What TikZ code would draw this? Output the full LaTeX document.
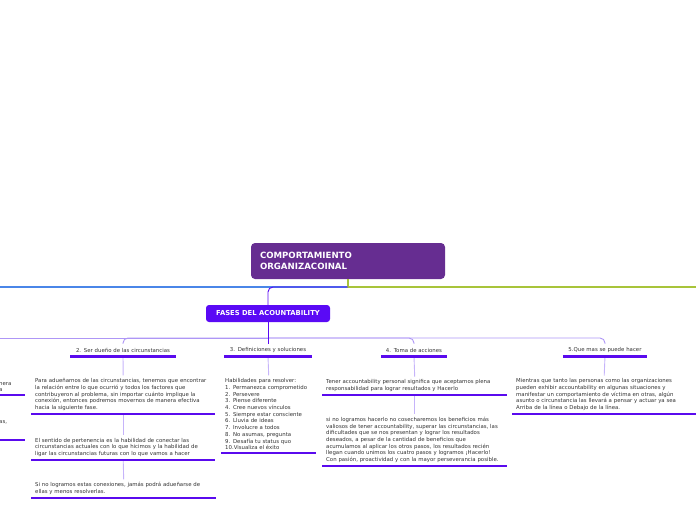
\documentclass[tikz,border=0pt]{standalone}
\usepackage{fontspec}
\setmainfont{DejaVu Sans}
\usetikzlibrary{positioning}
\definecolor{mmroot}{HTML}{662D91}
\definecolor{mmfases}{HTML}{5A0AF5}
\definecolor{mmbar}{HTML}{5A0AEE}
\definecolor{mmlink}{HTML}{AE96F6}
\definecolor{mmstub}{HTML}{C6B4FA}
\definecolor{mmblue}{HTML}{4A86E8}
\definecolor{mmgreen}{HTML}{A8C43A}
\definecolor{mmtext}{HTML}{333333}
\tikzset{
  rootbox/.style={rectangle,rounded corners=4pt,fill=mmroot,text=white,font=\fontsize{8.6}{11}\selectfont\bfseries,align=left,text width=176pt,inner xsep=9pt,minimum width=194pt,minimum height=36pt},
  fasesbox/.style={rectangle,rounded corners=3pt,fill=mmfases,text=white,font=\fontsize{6.8}{8}\selectfont\bfseries,minimum width=124pt,minimum height=17pt,inner sep=0pt},
  topic/.style={font=\fontsize{5.4}{6.6}\selectfont,text=mmtext,align=center,inner sep=0pt,minimum height=12pt},
  block/.style={font=\fontsize{5.4}{6.7}\selectfont,text=mmtext,align=left,inner xsep=4pt,inner ysep=3pt,anchor=south west},
  bar/.style={draw=mmbar,line width=2.6pt},
  link/.style={draw=mmlink,line width=.9pt,rounded corners=5pt},
  stub/.style={draw=mmstub,line width=.9pt},
  mainlink/.style={draw=mmfases,line width=.9pt,rounded corners=5pt},
}
\begin{document}
\begin{tikzpicture}[x=1pt,y=-1pt]
  \useasboundingbox (0,0) rectangle (696,520);
  \clip (0,0) rectangle (696,520);

  \node[rootbox] (root) at (348,261) {COMPORTAMIENTO\\ORGANIZACOINAL};
  \node[fasesbox] (fases) at (268,313.5) {FASES DEL ACOUNTABILITY};

  \coordinate (knot) at (348,287);
  \coordinate (westtop) at (0,287);
  \coordinate (easttop) at (696,287);
  \draw[mmblue,line width=1.1pt] (knot) -- (westtop);
  \draw[mmgreen,line width=1.1pt] (root.south) |- (easttop);
  \draw[mainlink] (knot) -| (fases.north);

  % subtopics
  \node[topic,text width=105pt] (t2) at (123,350) {2. Ser dueño de las circunstancias};
  \node[topic,text width=87pt] (t3) at (268,350) {3. Definiciones y soluciones};
  \node[topic,text width=65pt] (t4) at (414,350) {4. Toma de acciones};
  \node[topic,text width=84pt] (t5) at (605,350) {5.Que mas se puede hacer};

  \coordinate (hub) at (268,338);
  \coordinate (westend) at (0,338);
  \draw[link] (hub) -- (westend);
  \draw[link] (hub) -| (t2.north);
  \draw[link] (hub) -| (t4.north);
  \draw[link] (hub) -| (t5.north);
  \draw[mainlink] (fases) -- (t3);

  % texts
  \node[block,text width=176pt] (p21) at (31,414) {Para adueñarnos de las circunstancias, tenemos que encontrar\\la relación entre lo que ocurrió y todos los factores que\\contribuyeron al problema, sin importar cuánto implique la\\conexión, entonces podremos movernos de manera efectiva\\hacia la siguiente fase.};
  \node[block,text width=176pt] (p22) at (31,460) {El sentido de pertenencia es la habilidad de conectar las\\circunstancias actuales con lo que hicimos y la habilidad de\\ligar las circunstancias futuras con lo que vamos a hacer};
  \node[block,text width=177pt] (p23) at (31,498) {Si no logramos estas conexiones, jamás podrá adueñarse de\\ellas y menos resolverlas.};
  \node[block,text width=87pt] (p3) at (221,453) {Habilidades para resolver:\\1. Permanezca comprometido\\2. Persevere\\3. Piense diferente\\4. Cree nuevos vínculos\\5. Siempre estar consciente\\6. Lluvia de ideas\\7. Involucre a todos\\8. No asumas, pregunta\\9. Desafía tu status quo\\10.Visualiza el éxito};
  \node[block,text width=177pt] (p41) at (322,395) {Tener accountability personal significa que aceptamos plena\\responsabilidad para lograr resultados y Hacerlo};
  \node[block,text width=177pt] (p42) at (322,466) {si no logramos hacerlo no cosecharemos los beneficios más\\valiosos de tener accountability, superar las circunstancias, las\\dificultades que se nos presentan y lograr los resultados\\deseados, a pesar de la cantidad de beneficios que\\acumulamos al aplicar los otros pasos, los resultados recién\\llegan cuando unimos los cuatro pasos y logramos ¡Hacerlo!\\Con pasión, proactividad y con la mayor perseverancia posible.};
  \node[block,text width=176pt] (p5) at (512,414) {Mientras que tanto las personas como las organizaciones\\pueden exhibir accountability en algunas situaciones y\\manifestar un comportamiento de víctima en otras, algún\\asunto o circunstancia las llevará a pensar y actuar ya sea\\Arriba de la línea o Debajo de la línea.};
  \node[block,text width=22pt] (l1) at (-5,395) {nera\\a};
  \node[block,text width=22pt] (l2) at (-5,440) {as,\\l\\\mbox{}};

  \draw[stub] (t2.south) -- (p21.north);
  \draw[stub] (p21.south) -- (p22.north);
  \draw[stub] (p22.south) -- (p23.north);
  \draw[stub] (t3.south) -- (p3.north);
  \draw[stub] (t4.south) -- (p41.north);
  \draw[stub] (p41.south) -- (p42.north);
  \draw[stub] (t5.south) -- (p5.north);

  \foreach \n in {t2,t3,t4,t5,p21,p22,p23,p3,p41,p42,p5,l1,l2}
    \draw[bar] (\n.south west) -- (\n.south east);
\end{tikzpicture}
\end{document}
